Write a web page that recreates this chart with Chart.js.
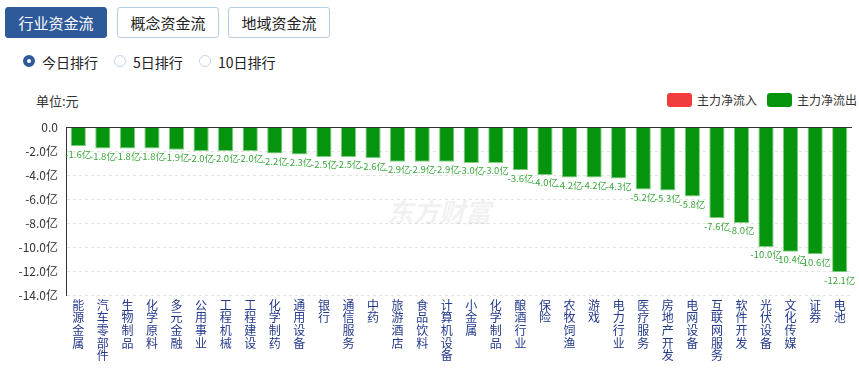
<!DOCTYPE html>
<html>
<head>
<meta charset="utf-8">
<script src="https://cdn.jsdelivr.net/npm/chart.js@4/dist/chart.umd.min.js"></script>
<style>
  body { margin: 0; width: 859px; height: 370px; background: #fff; font-family: "Noto Sans CJK SC", "Noto Sans", sans-serif; position: relative; overflow: hidden; }
  .btn { position: absolute; top: 7px; height: 29px; width: 100px; border: 1px solid #b5cde6; border-radius: 3px; background: #fff; color: #222; font-size: 15px; line-height: 29px; text-align: center; }
  .btn.on { background: #2f5a9a; border-color: #2f5a9a; color: #fff; }
  .radio { position: absolute; top: 53px; font-size: 14px; color: #222; line-height: 18px; }
  .radio i { position: absolute; left: -19px; top: 2px; width: 12px; height: 12px; border: 1px solid #c5d6e8; border-radius: 50%; box-sizing: border-box; }
  .radio i.on { border: 4px solid #2f5a9a; }
  #unit { position: absolute; left: 36px; top: 91px; font-size: 13px; color: #333; }
  .lg { position: absolute; top: 92px; font-size: 12px; color: #333; line-height: 15px; }
  .lg b { position: absolute; left: -30px; top: 1px; width: 25px; height: 14px; border-radius: 3px; }
  #wrap { position: absolute; left: 0; top: 88px; width: 859px; height: 282px; }
</style>
</head>
<body>
<div class="btn on" style="left:5px">行业资金流</div>
<div class="btn" style="left:117px">概念资金流</div>
<div class="btn" style="left:228px">地域资金流</div>
<div class="radio" style="left:42px"><i class="on"></i>今日排行</div>
<div class="radio" style="left:133px"><i></i>5日排行</div>
<div class="radio" style="left:218px"><i></i>10日排行</div>
<div id="unit">单位:元</div>
<div class="lg" style="left:697px"><b style="background:#f03c3c"></b>主力净流入</div>
<div class="lg" style="left:797px"><b style="background:#06940e"></b>主力净流出</div>
<div id="wrap"><canvas id="c"></canvas></div>
<script>
const industries = ['能源金属', '汽车零部件', '生物制品', '化学原料', '多元金融', '公用事业', '工程机械', '工程建设',
  '化学制药', '通用设备', '银行', '通信服务', '中药', '旅游酒店', '食品饮料', '计算机设备',
  '小金属', '化学制品', '酿酒行业', '保险', '农牧饲渔', '游戏', '电力行业', '医疗服务',
  '房地产开发', '电网设备', '互联网服务', '软件开发', '光伏设备', '文化传媒', '证券', '电池'];
const netOutflow = [-1.6, -1.8, -1.8, -1.8, -1.9, -2.0, -2.0, -2.0, -2.2, -2.3, -2.5, -2.5, -2.6, -2.9, -2.9, -2.9,
  -3.0, -3.0, -3.6, -4.0, -4.2, -4.2, -4.3, -5.2, -5.3, -5.8, -7.6, -8.0, -10.0, -10.4, -10.6, -12.1];
const yMin = -14;
const yMax = 0;

const barLabels = {
  id: 'barLabels',
  beforeDatasetsDraw(chart) {
    const { ctx, chartArea } = chart;
    ctx.save();
    ctx.fillStyle = 'rgba(60,60,60,0.07)';
    ctx.font = 'italic bold 26px "Noto Sans CJK SC"';
    ctx.textAlign = 'center';
    ctx.textBaseline = 'middle';
    ctx.fillText('东方财富', (chartArea.left + chartArea.right) / 2 - 20, chartArea.top + 85);
    ctx.restore();
  },
  afterDatasetsDraw(chart) {
    const { ctx } = chart;
    const y = chart.scales.y;
    // zero line
    ctx.save();
    ctx.strokeStyle = '#333';
    ctx.lineWidth = 1;
    ctx.beginPath();
    ctx.moveTo(chart.chartArea.left, Math.round(y.getPixelForValue(0)) + 0.5);
    ctx.lineTo(chart.chartArea.right, Math.round(y.getPixelForValue(0)) + 0.5);
    ctx.stroke();
    ctx.fillStyle = '#3aa83a';
    ctx.font = '9.5px "Noto Sans CJK SC"';
    ctx.textAlign = 'center';
    ctx.textBaseline = 'top';
    chart.getDatasetMeta(1).data.forEach((bar, i) => {
      ctx.fillText(netOutflow[i].toFixed(1) + '亿', bar.x, bar.y + 3);
    });
    ctx.restore();
  }
};

new Chart(document.getElementById('c'), {
  type: 'bar',
  data: {
    labels: industries.map(s => s.split('')),
    datasets: [
      { label: '主力净流入', data: [], backgroundColor: '#f03c3c' },
      {
        label: '主力净流出',
        data: netOutflow,
        backgroundColor: '#06940e',
        borderColor: '#7fcf7f',
        borderWidth: 1,
        barPercentage: 0.62,
        categoryPercentage: 1,
        grouped: false
      }
    ]
  },
  options: {
    responsive: true,
    maintainAspectRatio: false,
    animation: false,
    layout: { padding: { top: 39, right: 7, left: 0, bottom: 0 } },
    plugins: { legend: { display: false }, tooltip: { enabled: false } },
    scales: {
      x: {
        grid: { display: false },
        border: { display: false },
        ticks: {
          color: '#23398a',
          font: { size: 12, family: '"Noto Sans CJK SC"', lineHeight: 1.05 },
          maxRotation: 0,
          autoSkip: false,
          padding: -4
        },
        afterFit(s) { s.height = 75; }
      },
      y: {
        min: yMin,
        max: yMax,
        ticks: {
          stepSize: 2,
          color: '#333',
          font: { size: 12, family: '"Noto Sans CJK SC"' },
          padding: 8,
          callback: v => v === 0 ? '0.0' : v.toFixed(1) + '亿'
        },
        grid: { color: '#e3e3e3', drawTicks: false },
        border: { color: '#333', dash: [3, 3] },
        afterFit(s) { s.width = 66; }
      }
    }
  },
  plugins: [barLabels]
});
</script>
</body>
</html>
